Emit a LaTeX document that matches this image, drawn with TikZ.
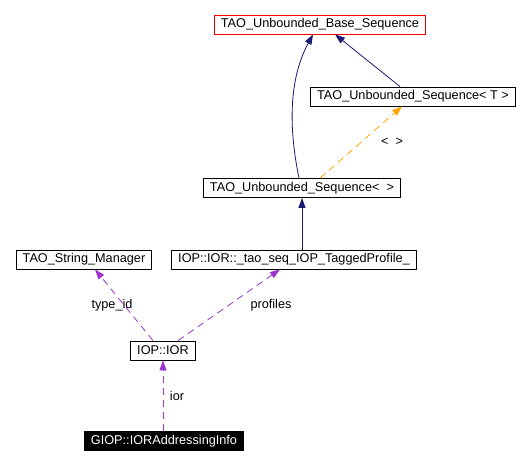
\documentclass[tikz,border=0pt]{standalone}
\usepackage{fontspec}
\setmainfont{Liberation Sans}
\usetikzlibrary{arrows.meta,positioning,calc}
\definecolor{edgeblue}{HTML}{191970}
\definecolor{edgeorange}{HTML}{FFA500}
\definecolor{edgepurple}{HTML}{9A32CD}

\begin{document}
\begin{tikzpicture}[
    x=1pt, y=-1pt,
    box/.style={draw, line width=0.8pt, inner xsep=6.5pt, inner ysep=0pt, minimum height=19pt, font=\fontsize{12.7}{15}\selectfont},
    lbl/.style={font=\fontsize{12.7}{15}\selectfont, inner sep=0pt},
    inh/.style={-{Triangle[length=10pt,width=7pt]}, edgeblue, line width=0.8pt},
    tpl/.style={-{Triangle[length=10pt,width=7pt]}, edgeorange, line width=0.8pt, dash pattern=on 7pt off 5pt},
    usg/.style={-{Triangle[length=10pt,width=7pt]}, edgepurple, line width=0.8pt, dash pattern=on 7pt off 5pt}
]
\useasboundingbox (0,0) rectangle (530,465);
\node[box, draw=red] (base) at (320,24.5) {TAO\_Unbounded\_Base\_Sequence};
\node[box] (seqt) at (413,96.5) {TAO\_Unbounded\_Sequence< T >};
\node[box] (seqe) at (302,188) {TAO\_Unbounded\_Sequence<\ \ >};
\node[box] (strmgr) at (84,259.5) {TAO\_String\_Manager};
\node[box] (taoseq) at (294,259.5) {IOP::IOR::\_tao\_seq\_IOP\_TaggedProfile\_};
\node[box] (ior) at (163,350.5) {IOP::IOR};
\node[box, fill=black, text=white] (giop) at (164,441) {GIOP::IORAddressingInfo};

\draw[inh] ([xshift=-3pt]seqe.north) .. controls (287,120) and (291,75) .. ([xshift=-7pt]base.south);
\draw[inh] ([xshift=-13pt]seqt.north) -- ([xshift=15pt]base.south);
\draw[tpl] ([xshift=18pt]seqe.north) -- node[lbl, xshift=31pt, text=black] {<\ \ >} ([xshift=-11pt]seqt.south);
\draw[inh] (taoseq.north -| seqe.south) -- (seqe.south);
\draw[usg] ([xshift=-10pt]ior.north) -- node[lbl, xshift=-12pt, text=black] {type\_id} ([xshift=11pt]strmgr.south);
\draw[usg] ([xshift=15pt]ior.north) -- node[lbl, xshift=42pt, text=black] {profiles} ([xshift=-14pt]taoseq.south);
\draw[usg] (giop.north -| ior.south) -- node[lbl, xshift=14pt, text=black] {ior} (ior.south);
\end{tikzpicture}
\end{document}
